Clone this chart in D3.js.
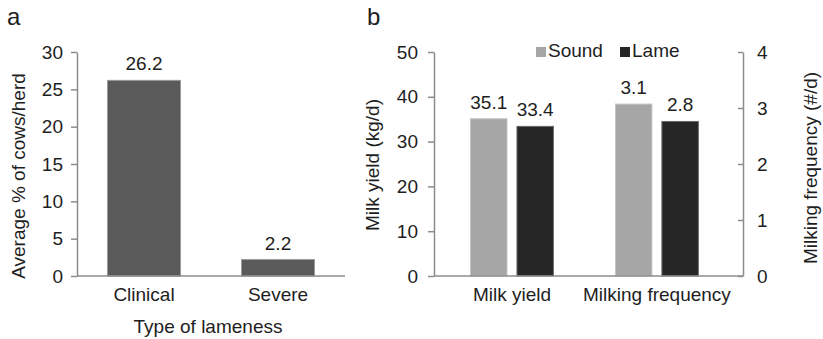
<!DOCTYPE html>
<html>
<head>
<meta charset="utf-8">
<script src="https://cdn.jsdelivr.net/npm/d3@7"></script>
<style>
  body { margin: 0; background: #fff; }
  text { font-family: "Liberation Sans", Arial, sans-serif; fill: #1e1e1e; }
</style>
</head>
<body>
<svg width="823" height="339"></svg>
<script>
// panel a
var lamenessTypes = ['Clinical', 'Severe'];
var lamenessPct = [26.2, 2.2];
var ticksA = [0, 5, 10, 15, 20, 25, 30];

// panel b
var groups = ['Milk yield', 'Milking frequency'];
var series = ['Sound', 'Lame'];
var soundVals = [35.1, 3.07];
var lameVals = [33.4, 2.76];
var ticksYield = [0, 10, 20, 30, 40, 50];
var ticksFreq = [0, 1, 2, 3, 4];

var colors = {Sound: '#a6a6a6', Lame: '#262626'};
var axisColor = '#8c8c8c';
var fs = '19px';
var fmt = d3.format('.1f');

var svg = d3.select('svg');

function styleAxis(g) {
  g.select('.domain').attr('stroke', axisColor).attr('stroke-width', 1.5);
  g.selectAll('.tick line').attr('stroke', axisColor).attr('stroke-width', 1.5);
  g.selectAll('.tick text').attr('font-size', fs).attr('fill', '#1e1e1e');
}

// ---------- panel a ----------
var xa = d3.scaleBand().domain(lamenessTypes).range([77, 345])
  .paddingInner(0.455).paddingOuter(0.2275);
var ya = d3.scaleLinear().domain([0, 30]).range([276, 52]);

svg.append('text').text('a').attr('x', 7).attr('y', 25).attr('font-size', '24px');

svg.selectAll('rect.a')
  .data(lamenessPct)
  .enter()
  .append('rect')
  .attr('class', 'a')
  .attr('x', (d, i) => xa(lamenessTypes[i]))
  .attr('y', d => ya(d))
  .attr('width', xa.bandwidth())
  .attr('height', d => ya(0) - ya(d))
  .attr('fill', '#5a5a5a')
  .attr('stroke', '#9a9a9a')
  .attr('stroke-width', 1);

svg.selectAll('text.vala')
  .data(lamenessPct)
  .enter()
  .append('text')
  .attr('class', 'vala')
  .text(d => fmt(d))
  .attr('x', (d, i) => xa(lamenessTypes[i]) + xa.bandwidth() / 2)
  .attr('y', d => ya(d) - 10)
  .attr('text-anchor', 'middle')
  .attr('font-size', fs);

var gya = svg.append('g').attr('transform', 'translate(77,0)')
  .call(d3.axisLeft(ya).tickValues(ticksA).tickSize(6).tickPadding(8).tickSizeOuter(0));
styleAxis(gya);

var gxa = svg.append('g').attr('transform', 'translate(0,276)')
  .call(d3.axisBottom(xa).tickSize(0).tickPadding(12).tickSizeOuter(0));
gxa.select('.domain').attr('d', 'M77,0H345').attr('stroke', axisColor).attr('stroke-width', 1.5);
gxa.selectAll('.tick text').attr('font-size', fs).attr('fill', '#1e1e1e');

svg.append('text').text('Type of lameness')
  .attr('x', 208).attr('y', 333).attr('text-anchor', 'middle').attr('font-size', fs);

svg.append('text').text('Average % of cows/herd')
  .attr('transform', 'translate(25,176) rotate(-90)')
  .attr('text-anchor', 'middle').attr('font-size', fs);

// ---------- panel b ----------
var x0 = d3.scaleBand().domain(groups).range([434, 743])
  .paddingInner(0.428).paddingOuter(0.28).align(0.45);
var x1 = d3.scaleBand().domain(series).range([0, x0.bandwidth()])
  .paddingInner(0.215).paddingOuter(0);
var yl = d3.scaleLinear().domain([0, 50]).range([276, 52]);
var yr = d3.scaleLinear().domain([0, 4]).range([276, 52]);
var yScales = [yl, yr];

svg.append('text').text('b').attr('x', 367).attr('y', 25).attr('font-size', '24px');

var rows = [];
groups.forEach(function(g, gi) {
  rows.push({group: g, s: 'Sound', v: soundVals[gi], y: yScales[gi]});
  rows.push({group: g, s: 'Lame', v: lameVals[gi], y: yScales[gi]});
});

svg.selectAll('rect.b')
  .data(rows)
  .enter()
  .append('rect')
  .attr('class', 'b')
  .attr('x', d => x0(d.group) + x1(d.s))
  .attr('y', d => d.y(d.v))
  .attr('width', x1.bandwidth())
  .attr('height', d => d.y(0) - d.y(d.v))
  .attr('fill', d => colors[d.s])
  .attr('stroke', d => d.s == 'Sound' ? '#c4c4c4' : '#6a6a6a')
  .attr('stroke-width', 1);

svg.selectAll('text.valb')
  .data(rows)
  .enter()
  .append('text')
  .attr('class', 'valb')
  .text(d => fmt(d.v))
  .attr('x', d => x0(d.group) + x1(d.s) + x1.bandwidth() / 2)
  .attr('y', d => d.y(d.v) - 10)
  .attr('text-anchor', 'middle')
  .attr('font-size', fs);

var gyl = svg.append('g').attr('transform', 'translate(434,0)')
  .call(d3.axisLeft(yl).tickValues(ticksYield).tickSize(6).tickPadding(10).tickSizeOuter(0));
styleAxis(gyl);

var gyr = svg.append('g').attr('transform', 'translate(743,0)')
  .call(d3.axisRight(yr).tickValues(ticksFreq).tickFormat(d3.format('d'))
    .tickSize(-5).tickPadding(14).tickSizeOuter(0));
styleAxis(gyr);

var gxb = svg.append('g').attr('transform', 'translate(0,276)')
  .call(d3.axisBottom(x0).tickSize(0).tickPadding(12).tickSizeOuter(0));
gxb.select('.domain').attr('d', 'M434,0H743').attr('stroke', axisColor).attr('stroke-width', 1.5);
gxb.selectAll('.tick text').attr('font-size', fs).attr('fill', '#1e1e1e');

svg.append('text').text('Milk yield (kg/d)')
  .attr('transform', 'translate(379,165) rotate(-90)')
  .attr('text-anchor', 'middle').attr('font-size', fs);

svg.append('text').text('Milking frequency (#/d)')
  .attr('transform', 'translate(817,168) rotate(-90)')
  .attr('text-anchor', 'middle').attr('font-size', fs);

// legend
var legX = [536, 620];
var leg = svg.selectAll('g.leg')
  .data(series)
  .enter()
  .append('g')
  .attr('class', 'leg')
  .attr('transform', (d, i) => 'translate(' + legX[i] + ',47)');
leg.append('rect')
  .attr('width', 10).attr('height', 10)
  .attr('fill', d => colors[d]);
leg.append('text')
  .text(d => d)
  .attr('x', 12).attr('y', 10)
  .attr('font-size', fs);
</script>
</body>
</html>
